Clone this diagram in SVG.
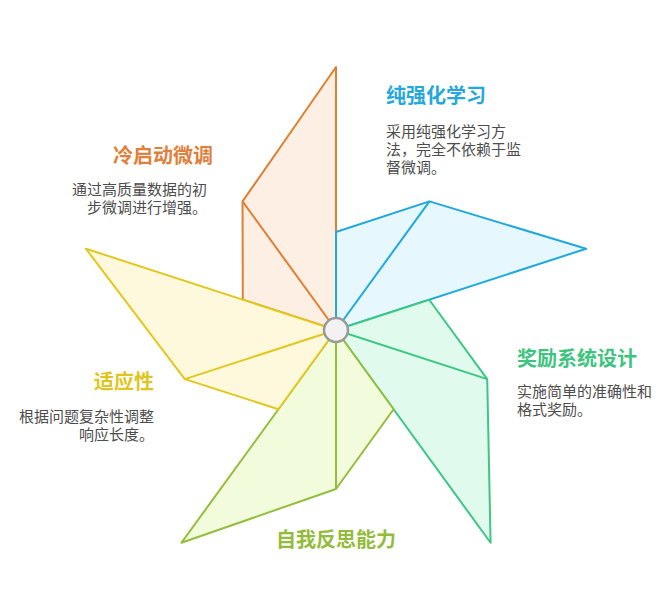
<svg xmlns="http://www.w3.org/2000/svg" width="672" height="612" viewBox="0 0 672 612">
<style>
.blade{stroke-width:2;stroke-linejoin:round}
.inner{stroke-width:2;fill:none}
.title{font-family:"Noto Sans CJK SC","Noto Sans",sans-serif;font-weight:bold;font-size:20px}
.desc{font-family:"Noto Sans CJK SC","Noto Sans",sans-serif;font-size:15px;fill:#4d4d4d}
</style>
<rect width="672" height="612" fill="#ffffff"/>
<g id="connectors">
<g id="blade-orange">
<polygon class="blade" points="336,330 242.79,299.72 242.54,201.37 336,67" fill="#fdefe3" stroke="#e07f30"/>
<line class="inner" x1="336" y1="330" x2="242.54" y2="201.37" stroke="#e07f30"/>
</g>
<g id="blade-blue">
<polygon class="blade" points="336,330 336,232 429.46,201.37 586.14,248.73" fill="#e6f7fd" stroke="#20a9dc"/>
<line class="inner" x1="336" y1="330" x2="429.46" y2="201.37" stroke="#20a9dc"/>
</g>
<g id="blade-green">
<polygon class="blade" points="336,330 429.21,299.72 487.22,379.13 490.59,542.77" fill="#e0fbee" stroke="#3cc784"/>
<line class="inner" x1="336" y1="330" x2="487.22" y2="379.13" stroke="#3cc784"/>
</g>
<g id="blade-lightgreen">
<polygon class="blade" points="336,330 393.6,409.28 336,489 181.41,542.77" fill="#f2fcdc" stroke="#93bd3a"/>
<line class="inner" x1="336" y1="330" x2="336" y2="489" stroke="#93bd3a"/>
</g>
<g id="blade-yellow">
<polygon class="blade" points="336,330 278.4,409.28 184.78,379.13 85.86,248.73" fill="#fef9dc" stroke="#e2c71e"/>
<line class="inner" x1="336" y1="330" x2="184.78" y2="379.13" stroke="#e2c71e"/>
</g>
</g>
<g id="hub">
<circle cx="336" cy="330" r="12" fill="#f2f2f2" stroke="#999999" stroke-width="2.5"/>
</g>
<g id="node-rl">
<text class="title" x="386" y="103" fill="#27a8dc">纯强化学习</text>
<text class="desc" x="386" y="137">采用纯强化学习方</text>
<text class="desc" x="386" y="155">法，完全不依赖于监</text>
<text class="desc" x="386" y="173">督微调。</text>
</g>
<g id="node-coldstart">
<text class="title" x="213" y="163" fill="#e0803a" text-anchor="end">冷启动微调</text>
<text class="desc" x="207" y="195" text-anchor="end">通过高质量数据的初</text>
<text class="desc" x="207" y="213" text-anchor="end">步微调进行增强。</text>
</g>
<g id="node-reward">
<text class="title" x="517" y="366" fill="#3dc47e">奖励系统设计</text>
<text class="desc" x="517" y="397">实施简单的准确性和</text>
<text class="desc" x="517" y="415">格式奖励。</text>
</g>
<g id="node-adapt">
<text class="title" x="154" y="389" fill="#e0c520" text-anchor="end">适应性</text>
<text class="desc" x="154" y="422" text-anchor="end">根据问题复杂性调整</text>
<text class="desc" x="154" y="440" text-anchor="end">响应长度。</text>
</g>
<g id="node-reflect">
<text class="title" x="336" y="547" fill="#92bc3a" text-anchor="middle">自我反思能力</text>
</g>
</svg>
